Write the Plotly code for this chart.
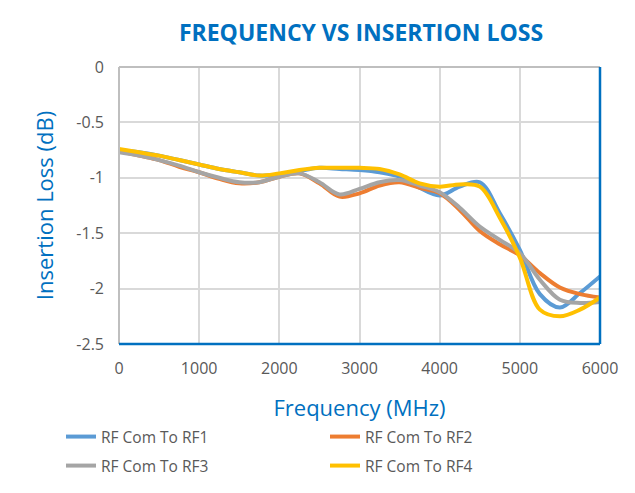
import plotly.graph_objects as go

freq = [0, 250, 500, 750, 1000, 1250, 1500, 1750, 2000, 2250, 2500, 2750, 3000,
        3250, 3500, 3750, 4000, 4250, 4500, 4750, 5000, 5250, 5500, 5750, 6000]

rf1 = [-0.75, -0.77, -0.80, -0.84, -0.88, -0.92, -0.95, -0.98, -0.97, -0.94, -0.91, -0.92, -0.93,
       -0.95, -0.99, -1.09, -1.16, -1.08, -1.04, -1.32, -1.65, -2.05, -2.17, -2.04, -1.89]
rf2 = [-0.76, -0.80, -0.84, -0.90, -0.95, -1.01, -1.05, -1.04, -0.99, -0.96, -1.05, -1.17, -1.14,
       -1.07, -1.04, -1.09, -1.14, -1.29, -1.48, -1.60, -1.70, -1.86, -1.99, -2.05, -2.08]
rf3 = [-0.77, -0.80, -0.84, -0.89, -0.95, -1.00, -1.04, -1.04, -0.99, -0.96, -1.04, -1.15, -1.10,
       -1.04, -1.02, -1.07, -1.13, -1.27, -1.44, -1.56, -1.68, -1.92, -2.10, -2.13, -2.12]
rf4 = [-0.74, -0.77, -0.80, -0.84, -0.88, -0.92, -0.95, -0.98, -0.96, -0.93, -0.91, -0.91, -0.91,
       -0.92, -0.97, -1.05, -1.08, -1.06, -1.08, -1.36, -1.72, -2.19, -2.25, -2.19, -2.08]

series_names = ["RF Com To RF1", "RF Com To RF2", "RF Com To RF3", "RF Com To RF4"]
series_vals = [rf1, rf2, rf3, rf4]
colors = ["#5B9BD5", "#ED7D31", "#A5A5A5", "#FFC000"]
legend_ids = ["legend", "legend", "legend2", "legend2"]

y_tickvals = [0, -0.5, -1, -1.5, -2, -2.5]
y_ticktext = ["0", "-0.5", "-1", "-1.5", "-2", "-2.5"]

OFF = 8  # page body margin
W, H = 635 - OFF, 493 - OFF
L, R, T, B = 119 - OFF, 35, 67 - OFF, 149
pw, ph = W - L - R, H - T - B

def px(x):
    return (x - OFF - L) / pw

def py(y):
    return (H - B - (y - OFF)) / ph

fig = go.Figure()
for name, vals, c, lg in zip(series_names, series_vals, colors, legend_ids):
    fig.add_trace(go.Scatter(x=freq, y=vals, name=name, mode="lines", legend=lg,
                             line=dict(color=c, width=4, shape="spline", smoothing=1)))

blue = "#0070C0"
tick_font = dict(family="Open Sans", size=16, color="#595959")
leg_font = dict(family="Open Sans", size=15.5, color="#595959")

def legend_at(ycenter):
    return dict(orientation="h", xref="paper", yref="paper",
                x=px(61), y=py(ycenter), xanchor="left", yanchor="middle",
                entrywidth=219, entrywidthmode="pixels", traceorder="normal",
                font=leg_font, bgcolor="rgba(0,0,0,0)", borderwidth=0)

fig.update_layout(
    width=W, height=H,
    margin=dict(l=L, r=R, t=T, b=B, autoexpand=False),
    paper_bgcolor="white", plot_bgcolor="white",
    title=dict(text="<b>FREQUENCY VS INSERTION LOSS</b>", x=px(361), xref="paper",
               xanchor="center", y=1 - (33 - OFF) / H, yanchor="middle",
               font=dict(family="Open Sans", size=23, color=blue)),
    xaxis=dict(range=[0, 6000], dtick=1000, tick0=0, showgrid=True, gridcolor="#D9D9D9",
               gridwidth=1.5, zeroline=False, showline=False, tickfont=tick_font,
               ticks="", ticklabelstandoff=13,
               title=dict(text="Frequency (MHz)", standoff=22,
                          font=dict(family="Open Sans", size=22, color=blue))),
    yaxis=dict(range=[-2.5, 0], tickvals=y_tickvals, ticktext=y_ticktext,
               showgrid=True, gridcolor="#D9D9D9",
               gridwidth=1.5, zeroline=False, showline=False, tickfont=tick_font,
               ticks="", ticklabelstandoff=14,
               title=dict(text="Insertion Loss (dB)", standoff=16,
                          font=dict(family="Open Sans", size=22, color=blue))),
    legend=legend_at(437),
    legend2=legend_at(466),
    showlegend=True,
)

shapes = [
    dict(type="line", xref="paper", yref="paper", x0=0, x1=1, y0=1, y1=1,
         line=dict(color="#BFBFBF", width=2)),
    dict(type="line", xref="paper", yref="paper", x0=0, x1=0, y0=0, y1=1,
         line=dict(color="#BFBFBF", width=2)),
    dict(type="line", xref="paper", yref="paper", x0=1, x1=1, y0=0, y1=1,
         line=dict(color=blue, width=2.5)),
    dict(type="line", xref="paper", yref="paper", x0=0, x1=1, y0=0, y1=0,
         line=dict(color=blue, width=2.5)),
    dict(type="rect", xref="paper", yref="paper", x0=px(4), x1=px(630), y0=py(3), y1=py(500),
         line=dict(color=blue, width=1.5), layer="below"),
]
fig.update_layout(shapes=shapes)

fig.write_html("out.html")
